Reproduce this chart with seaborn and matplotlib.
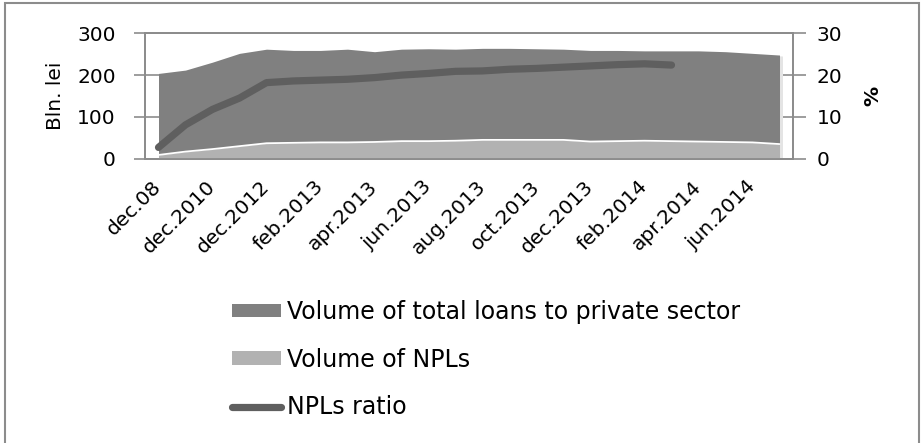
import matplotlib
matplotlib.use("Agg")
import matplotlib.pyplot as plt
import matplotlib.transforms as mtransforms
import seaborn as sns
import numpy as np
import pandas as pd
from matplotlib.patches import Patch, Rectangle
from matplotlib.lines import Line2D

categories = ['dec.08', 'dec.09', 'dec.2010', 'dec.2011', 'dec.2012', 'jan.2013',
              'feb.2013', 'mar.2013', 'apr.2013', 'may.2013', 'jun.2013', 'jul.2013',
              'aug.2013', 'sep.2013', 'oct.2013', 'nov.2013', 'dec.2013', 'jan.2014',
              'feb.2014', 'mar.2014', 'apr.2014', 'may.2014', 'jun.2014', 'jul.2014']
total_loans = [204, 212, 231, 252, 262, 259, 259, 262, 256, 262, 263, 262,
               264, 264, 263, 262, 259, 259, 258, 258, 258, 256, 252, 248]
npl_volume = [9, 17, 23, 30, 37, 38, 39, 39, 40, 42, 42, 43,
              45, 45, 45, 45, 41, 42, 43, 42, 41, 40, 39, 35]
npl_ratio = [2.7, 8.1, 11.8, 14.5, 18.2, 18.6, 18.8, 19.0, 19.4, 20.0, 20.4, 20.9,
             21.0, 21.4, 21.6, 21.9, 22.2, 22.5, 22.7, 22.4]
left_ticks = [0, 100, 200, 300]
right_ticks = [0, 10, 20, 30]
legend_labels = ['Volume of total loans to private sector', 'Volume of NPLs', 'NPLs ratio']

sns.set_theme(style="white")
plt.rcParams['font.family'] = ['DejaVu Sans']

C_TOTAL = '#808080'
C_NPL = '#b2b2b2'
C_RATIO = '#5f5f5f'
C_AXIS = '#8c8c8c'
C_TEXT = '#000000'
FS_TICK = 14.5
FS_LEG = 17

fig = plt.figure(figsize=(9.21, 4.43), dpi=100)
ax = fig.add_axes([145/921, 1-158.7/443, (793-145)/921, (158.7-33.3)/443])

x = np.arange(len(categories))
df = pd.DataFrame({'x': x, 'total': total_loans, 'npl': npl_volume})

# soft shadow of the area series
shadow = mtransforms.offset_copy(ax.transData, fig=fig, x=3, y=-1, units='dots')
ax.fill_between(df['x'], 0, df['total'], color='#e4e4e4', lw=0, zorder=1.5,
                transform=shadow)
ax.fill_between(df['x'], 0, df['total'], color=C_TOTAL, lw=0, zorder=2)
ax.fill_between(df['x'], 0, df['npl'], color=C_NPL, lw=0, zorder=3)
sns.lineplot(data=df, x='x', y='npl', ax=ax, color='white', lw=1.3, zorder=4)
ax.set_xlim(-0.5, len(categories) - 0.5)
ax.set_ylim(0, 300)
ax.set_yticks(left_ticks)
ax.set_yticklabels([str(t) for t in left_ticks], fontsize=FS_TICK, color=C_TEXT)
ax.yaxis.grid(True, color=C_AXIS, lw=1.2, zorder=0)
ax.set_axisbelow(True)
ax.set_ylabel('Bln. lei', fontsize=FS_TICK, labelpad=9, color=C_TEXT)

ax.set_xticks(x[::2])
ax.set_xticklabels(categories[::2], rotation=45, ha='right', va='center',
                   rotation_mode='anchor', fontsize=FS_TICK, color=C_TEXT)
ax.set_xticks(np.arange(-0.5, len(categories) + 0.5, 1), minor=True)
ax.tick_params(axis='x', which='major', length=0, pad=18)
ax.tick_params(axis='x', which='minor', length=6, color=C_AXIS, width=1.2, direction='out')
ax.tick_params(axis='y', length=8, color=C_AXIS, width=1.2, direction='out', pad=13)
ax.set_xlabel('')
for s in ax.spines.values():
    s.set_color(C_AXIS)
    s.set_linewidth(1.3)

ax2 = ax.twinx()
rdf = pd.DataFrame({'x': x[:len(npl_ratio)], 'ratio': npl_ratio})
sns.lineplot(data=rdf, x='x', y='ratio', ax=ax2, color=C_RATIO, lw=5.2,
             solid_capstyle='round', solid_joinstyle='round', zorder=5)
ax2.set_ylim(0, 30)
ax2.set_yticks(right_ticks)
ax2.set_yticklabels([str(t) for t in right_ticks], fontsize=FS_TICK, color=C_TEXT)
ax2.set_ylabel('%', fontsize=FS_TICK, fontweight='bold', labelpad=15, color=C_TEXT)
ax2.tick_params(axis='y', length=9, color=C_AXIS, width=1.2, direction='out', pad=8)
ax2.set_xlabel('')
for s in ax2.spines.values():
    s.set_color(C_AXIS)
    s.set_linewidth(1.3)
ax2.grid(False)

handles = [Patch(facecolor=C_TOTAL, edgecolor='none'),
           Patch(facecolor=C_NPL, edgecolor='none'),
           Line2D([0], [0], color=C_RATIO, lw=5.2, solid_capstyle='round')]
fig.legend(handles, legend_labels, loc='upper left',
           bbox_to_anchor=(232/921, 1-300/443),
           frameon=False, fontsize=FS_LEG, labelcolor=C_TEXT,
           handlelength=2.08, handleheight=0.51,
           handletextpad=0.25, labelspacing=1.0, borderpad=0, borderaxespad=0)

fig.patches.append(Rectangle((5/921, -0.05), (919-5)/921, 1.05 - 3/443,
                             transform=fig.transFigure, fill=False,
                             edgecolor='#8c8c8c', lw=1.5))

fig.savefig('out.png', dpi=100)
